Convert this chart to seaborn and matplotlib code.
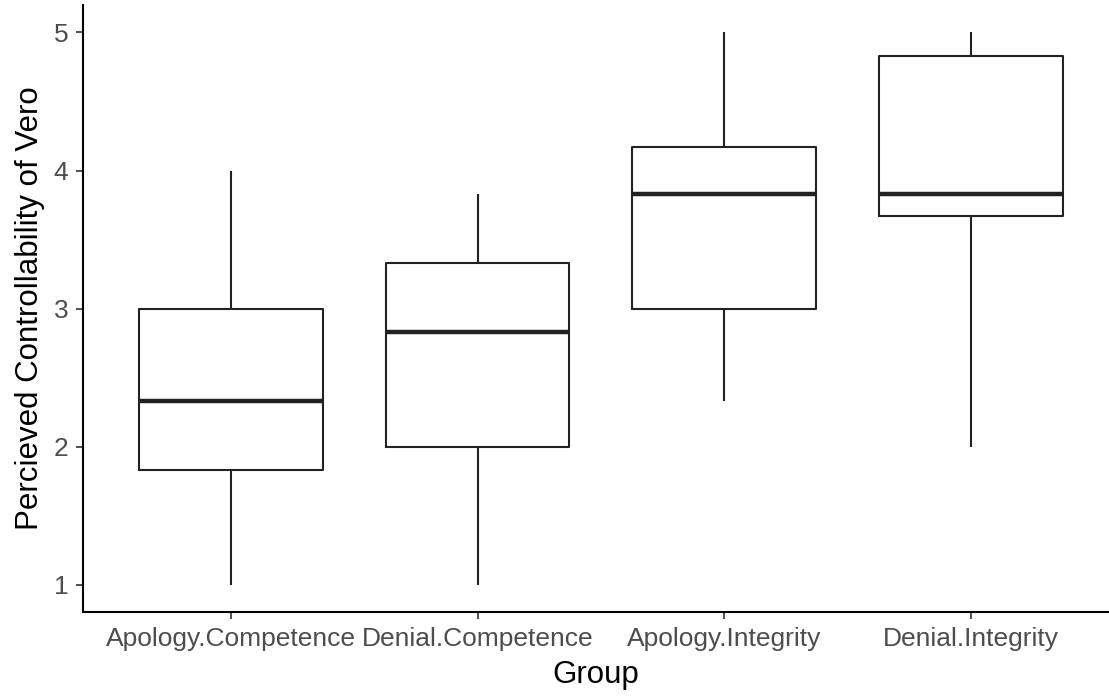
import matplotlib
matplotlib.use("Agg")
import matplotlib.pyplot as plt
import numpy as np
import pandas as pd
import seaborn as sns

# five-number summaries (min, q1, median, q3, max)
groups = ['Apology.Competence', 'Denial.Competence', 'Apology.Integrity', 'Denial.Integrity']
apology_competence = [1.0, 1.833, 2.333, 3.0, 4.0]
denial_competence = [1.0, 2.0, 2.833, 3.333, 3.833]
apology_integrity = [2.333, 3.0, 3.833, 4.167, 5.0]
denial_integrity = [2.0, 3.667, 3.833, 4.833, 5.0]

values = [apology_competence, denial_competence, apology_integrity, denial_integrity]
df = pd.DataFrame({
    'Group': np.repeat(groups, [len(v) for v in values]),
    'Controllability': np.concatenate(values),
})

sns.set_style('white')
plt.rcParams['font.family'] = ['Liberation Sans', 'DejaVu Sans']

fig = plt.figure(figsize=(11.09, 6.98), dpi=100)
ax = fig.add_axes([0.0748, 0.123, 0.9252, 0.870])

line = dict(color='#222222', linewidth=1.5)
sns.boxplot(data=df, x='Group', y='Controllability', order=groups, ax=ax,
            width=0.745, fill=False, color='#222222', linewidth=1.5,
            whis=1.5, showcaps=False, showfliers=False,
            boxprops=line, whiskerprops=line,
            medianprops=dict(color='#222222', linewidth=3.2))

ax.set_xlim(-0.6, 3.56)
ax.set_ylim(0.8, 5.2)
ax.set_yticks([1, 2, 3, 4, 5])

for s in ['top', 'right']:
    ax.spines[s].set_visible(False)
for s in ['left', 'bottom']:
    ax.spines[s].set_linewidth(1.5)
    ax.spines[s].set_color('black')

ax.tick_params(axis='both', bottom=True, left=True, length=5, width=1.2,
               color='#333333', labelsize=19, labelcolor='#4D4D4D', pad=5.5)
ax.set_xlabel('Group', fontsize=22.5, color='black', labelpad=7)
ax.set_ylabel('Percieved Controllability of Vero', fontsize=22.5, color='black', labelpad=6)

fig.savefig('out.png', dpi=100)
